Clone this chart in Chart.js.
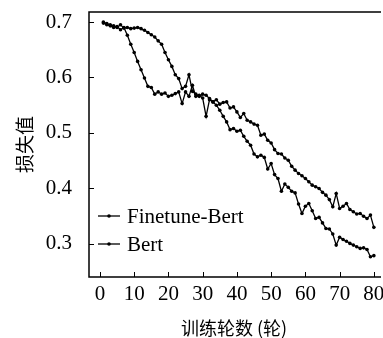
<!DOCTYPE html>
<html>
<head>
<meta charset="utf-8">
<script src="https://cdn.jsdelivr.net/npm/chart.js@4.4.1/dist/chart.umd.min.js"></script>
<style>
  html, body { margin: 0; padding: 0; background: #fff; }
  #chart { display: block; }
</style>
</head>
<body>
<canvas id="chart" width="383" height="338"></canvas>
<script>
// ===================================
// Data
// ===================================
const epochs = Array.from({ length: 80 }, (_, i) => i + 1);

const finetuneBertLoss = [
    0.698, 0.695, 0.693, 0.690, 0.692, 0.686, 0.690, 0.676, 0.660, 0.645,
    0.629, 0.614, 0.599, 0.584, 0.582, 0.570, 0.574, 0.570, 0.572, 0.566,
    0.568, 0.571, 0.574, 0.553, 0.574, 0.566, 0.586, 0.566, 0.568, 0.563,
    0.530, 0.560, 0.556, 0.550, 0.541, 0.530, 0.520, 0.506, 0.508, 0.503,
    0.505, 0.494, 0.485, 0.478, 0.462, 0.457, 0.460, 0.456, 0.435, 0.445,
    0.425, 0.418, 0.395, 0.408, 0.402, 0.395, 0.392, 0.372, 0.355, 0.368,
    0.373, 0.360, 0.346, 0.348, 0.338, 0.328, 0.327, 0.318, 0.298, 0.312,
    0.308, 0.305, 0.301, 0.298, 0.295, 0.292, 0.293, 0.290, 0.277, 0.279
];

const bertLoss = [
    0.700, 0.697, 0.695, 0.693, 0.690, 0.695, 0.689, 0.690, 0.688, 0.689,
    0.690, 0.688, 0.685, 0.681, 0.677, 0.673, 0.666, 0.660, 0.645, 0.632,
    0.620, 0.605, 0.598, 0.580, 0.584, 0.605, 0.575, 0.570, 0.566, 0.570,
    0.568, 0.562, 0.556, 0.560, 0.552, 0.555, 0.556, 0.545, 0.547, 0.538,
    0.528, 0.535, 0.523, 0.520, 0.516, 0.514, 0.496, 0.498, 0.487, 0.482,
    0.470, 0.463, 0.462, 0.455, 0.451, 0.440, 0.433, 0.427, 0.423, 0.418,
    0.412, 0.406, 0.403, 0.400, 0.393, 0.388, 0.380, 0.367, 0.391, 0.364,
    0.368, 0.373, 0.362, 0.358, 0.354, 0.355, 0.350, 0.346, 0.352, 0.330
];

const seriesLabels = ['Finetune-Bert', 'Bert'];
const xTicks = [0, 10, 20, 30, 40, 50, 60, 70, 80];
const yTicks = [0.3, 0.4, 0.5, 0.6, 0.7];

const serif = "'Liberation Serif', 'DejaVu Serif', serif";
const cjk = "'Noto Sans CJK SC', sans-serif";

function toPoints(values) {
    return values.map((v, i) => ({ x: epochs[i], y: v }));
}

// ===================================
// Frame, inward ticks and legend
// ===================================
const framePlugin = {
    id: 'frame',
    afterDraw(chart) {
        const { ctx, chartArea: a, scales } = chart;
        ctx.save();
        ctx.strokeStyle = '#000';
        ctx.lineWidth = 1.5;
        ctx.beginPath();
        ctx.moveTo(a.right + 2, a.top);
        ctx.lineTo(a.left, a.top);
        ctx.lineTo(a.left, a.bottom);
        ctx.lineTo(a.right + 2, a.bottom);
        ctx.stroke();

        ctx.lineWidth = 1;
        ctx.beginPath();
        yTicks.forEach(v => {
            const y = Math.round(scales.y.getPixelForValue(v)) + 0.5;
            ctx.moveTo(a.left, y);
            ctx.lineTo(a.left + 5, y);
        });
        xTicks.forEach(v => {
            const x = Math.round(scales.x.getPixelForValue(v)) + 0.5;
            ctx.moveTo(x, a.bottom);
            ctx.lineTo(x, a.bottom - 5);
        });
        ctx.stroke();

        // legend
        const rows = [216, 244];
        ctx.font = '21px ' + serif;
        ctx.textBaseline = 'middle';
        ctx.fillStyle = '#000';
        seriesLabels.forEach((label, i) => {
            const y = rows[i];
            ctx.lineWidth = 1.3;
            ctx.beginPath();
            ctx.moveTo(98, y);
            ctx.lineTo(120, y);
            ctx.stroke();
            ctx.beginPath();
            ctx.arc(109, y, 1.8, 0, Math.PI * 2);
            ctx.fill();
            ctx.fillText(label, 127, y + 1);
        });
        ctx.restore();
    }
};

const ctx = document.getElementById('chart').getContext('2d');

const lineStyle = {
    borderColor: '#000',
    backgroundColor: '#000',
    borderWidth: 1.3,
    pointRadius: 1.8,
    pointBorderWidth: 0,
    pointBackgroundColor: '#000',
    tension: 0,
    fill: false
};

new Chart(ctx, {
    type: 'line',
    data: {
        datasets: [
            Object.assign({ label: seriesLabels[0], data: toPoints(finetuneBertLoss) }, lineStyle),
            Object.assign({ label: seriesLabels[1], data: toPoints(bertLoss) }, lineStyle)
        ]
    },
    options: {
        responsive: false,
        animation: false,
        devicePixelRatio: 1,
        layout: { padding: { top: 12, right: 0, left: 0, bottom: 0 } },
        plugins: {
            legend: { display: false },
            tooltip: { enabled: false }
        },
        scales: {
            x: {
                type: 'linear',
                min: -3.2,
                max: 81.5,
                grid: { display: false, drawTicks: false },
                border: { display: false },
                afterBuildTicks: s => { s.ticks = xTicks.map(v => ({ value: v })); },
                afterFit: s => {
                    s.height = 61;
                    s.paddingLeft = 0;
                    s.paddingRight = 0;
                },
                ticks: {
                    color: '#000',
                    padding: 5,
                    maxRotation: 0,
                    autoSkip: false,
                    font: { family: serif, size: 21 }
                },
                title: {
                    display: true,
                    text: '训练轮数 (轮)',
                    color: '#000',
                    padding: { top: 0, bottom: 0 },
                    font: { family: cjk, size: 18, lineHeight: 1.1 }
                }
            },
            y: {
                min: 0.2405,
                max: 0.718,
                grid: { display: false, drawTicks: false },
                border: { display: false },
                afterBuildTicks: s => { s.ticks = yTicks.map(v => ({ value: v })); },
                afterFit: s => {
                    s.width = 89;
                    s.paddingTop = 0;
                    s.paddingBottom = 0;
                },
                ticks: {
                    color: '#000',
                    padding: 17,
                    autoSkip: false,
                    font: { family: serif, size: 21 },
                    callback: v => v.toFixed(1)
                },
                title: {
                    display: true,
                    text: '损失值',
                    color: '#000',
                    padding: { top: 15, bottom: 0 },
                    font: { family: cjk, size: 19, lineHeight: 1.05 }
                }
            }
        }
    },
    plugins: [framePlugin]
});
</script>
</body>
</html>
